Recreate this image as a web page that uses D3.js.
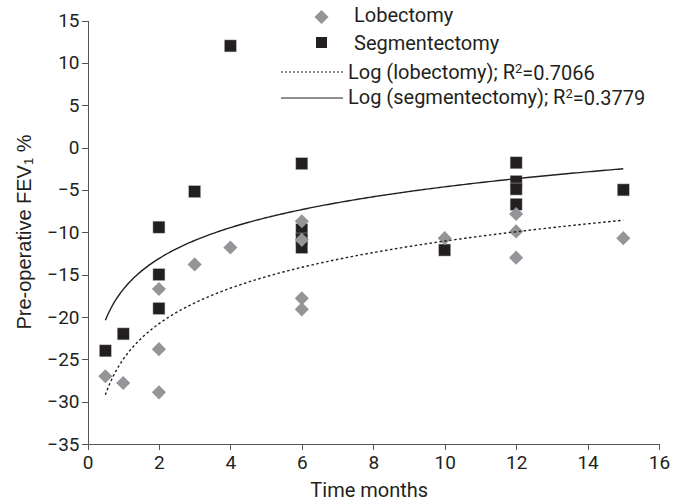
<!DOCTYPE html>
<html>
<head>
<meta charset="utf-8">
<script src="https://cdn.jsdelivr.net/npm/d3@7"></script>
<style>
  body { margin: 0; background: #fff; }
  svg { display: block; }
  .axis text { font-family: Roboto, sans-serif; font-size: 19px; fill: #231f20; }
  .axis path, .axis line { stroke: #555; stroke-width: 1; shape-rendering: crispEdges; }
  .legend text { font-family: Roboto, sans-serif; font-size: 20px; fill: #231f20; }
</style>
</head>
<body>
<svg class="chart" width="681" height="502"></svg>
<script>
// months after surgery, change vs pre-operative FEV1 %
const lobMonths = [0.5, 1, 2, 2, 2, 3, 4, 6, 6, 6, 6, 10, 12, 12, 12, 15];
const lobValues = [-27, -27.8, -16.7, -23.8, -28.9, -13.8, -11.8, -8.7, -10.9, -17.8, -19.1, -10.7, -7.85, -9.9, -13, -10.7];

const segMonths = [0.5, 1, 2, 2, 2, 3, 4, 6, 6, 6, 6, 10, 12, 12, 12, 12, 15];
const segValues = [-24, -22, -9.4, -15, -19, -5.2, 12, -1.9, -9.7, -10.8, -11.8, -12.1, -1.8, -4.0, -4.9, -6.7, -5.0];

// log trend lines y = a*ln(x) + b
const lobFit = { a: 6.06, b: -25.0, from: 0.5, to: 15 };
const segFit = { a: 5.26, b: -16.75, from: 0.5, to: 15 };

const xTicks = [0, 2, 4, 6, 8, 10, 12, 14, 16];
const yTicks = [-35, -30, -25, -20, -15, -10, -5, 0, 5, 10, 15];

const legendLabels = ['Lobectomy', 'Segmentectomy', 'Log (lobectomy); R', 'Log (segmentectomy); R'];
const legendR2 = ['0.7066', '0.3779'];

const svg = d3.select('.chart');

const x = d3.scaleLinear().domain([0, 16]).range([87.5, 659]);
const y = d3.scaleLinear().domain([-35, 15]).range([444, 20.5]);

svg.append('g')
  .attr('class', 'axis axis--x')
  .attr('transform', 'translate(0,' + y(-35) + ')')
  .call(d3.axisBottom(x).tickValues(xTicks).tickSize(6).tickSizeOuter(0).tickPadding(4))
  .call(g => g.selectAll('text').attr('dy', '0.8em'));

svg.append('g')
  .attr('class', 'axis axis--y')
  .attr('transform', 'translate(' + x(0) + ',0)')
  .call(d3.axisLeft(y).tickValues(yTicks).tickSize(6).tickSizeOuter(0).tickPadding(2));

svg.append('text')
  .attr('x', (x(0) + x(16)) / 2 - 4)
  .attr('y', 497)
  .attr('text-anchor', 'middle')
  .style('font-family', 'Roboto, sans-serif')
  .style('font-size', '20px')
  .style('fill', '#231f20')
  .text('Time months');

const yTitle = svg.append('text')
  .attr('transform', 'translate(31,232) rotate(-90)')
  .attr('text-anchor', 'middle')
  .style('font-family', '"Liberation Sans", Arial, sans-serif')
  .style('font-size', '20px')
  .style('fill', '#231f20');
yTitle.append('tspan').text('Pre-operative FEV');
yTitle.append('tspan').attr('font-size', '13px').attr('dy', 2).text('1');
yTitle.append('tspan').attr('dy', -2).text(' %');

const squareColor = '#231f20';
const diamondColor = '#939598';
const diamondPath = d3.symbol().type(d3.symbolSquare).size(100);

const segData = segMonths.map((m, i) => ({ m, v: segValues[i] }));
const lobData = lobMonths.map((m, i) => ({ m, v: lobValues[i] }));

svg.append('g')
  .selectAll('rect')
  .data(segData)
  .join('rect')
  .attr('x', d => x(d.m) - 6)
  .attr('y', d => y(d.v) - 6)
  .attr('width', 12)
  .attr('height', 12)
  .attr('fill', squareColor)
  .attr('stroke', '#bbb')
  .attr('stroke-width', 0.5);

svg.append('g')
  .selectAll('path')
  .data(lobData)
  .join('path')
  .attr('d', diamondPath)
  .attr('transform', d => 'translate(' + x(d.m) + ',' + y(d.v) + ') rotate(45)')
  .attr('fill', diamondColor);

function fitLine(fit) {
  const pts = d3.range(0, 201).map(i => {
    const m = fit.from + (fit.to - fit.from) * i / 200;
    return [m, fit.a * Math.log(m) + fit.b];
  });
  return d3.line().x(d => x(d[0])).y(d => y(d[1]))(pts);
}

svg.append('path')
  .attr('d', fitLine(lobFit))
  .attr('fill', 'none')
  .attr('stroke', '#231f20')
  .attr('stroke-width', 1.4)
  .attr('stroke-dasharray', '2.5,2.5');

svg.append('path')
  .attr('d', fitLine(segFit))
  .attr('fill', 'none')
  .attr('stroke', '#231f20')
  .attr('stroke-width', 1.4);

// legend
const legend = svg.append('g').attr('class', 'legend');

legend.append('path')
  .attr('d', diamondPath)
  .attr('transform', 'translate(321.5,17) rotate(45)')
  .attr('fill', diamondColor);
legend.append('rect')
  .attr('x', 316).attr('y', 37).attr('width', 11).attr('height', 11)
  .attr('fill', squareColor);
legend.append('line')
  .attr('x1', 281).attr('x2', 343).attr('y1', 72).attr('y2', 72)
  .attr('stroke', '#231f20').attr('stroke-width', 1).attr('stroke-dasharray', '2,2');
legend.append('line')
  .attr('x1', 281).attr('x2', 343).attr('y1', 98).attr('y2', 98)
  .attr('stroke', '#231f20').attr('stroke-width', 1.2);

const legendPos = [[354, 15], [354, 43], [348, 72], [348, 97]];
legendLabels.forEach((label, i) => {
  const t = legend.append('text')
    .attr('x', legendPos[i][0])
    .attr('y', legendPos[i][1])
    .attr('dy', '0.35em');
  t.append('tspan').text(label);
  if (i >= 2) {
    t.append('tspan').attr('font-size', '13px').attr('dy', '-0.5em').text('2');
    t.append('tspan').attr('dy', '0.35em').text('=' + legendR2[i - 2]);
  }
});
</script>
</body>
</html>
